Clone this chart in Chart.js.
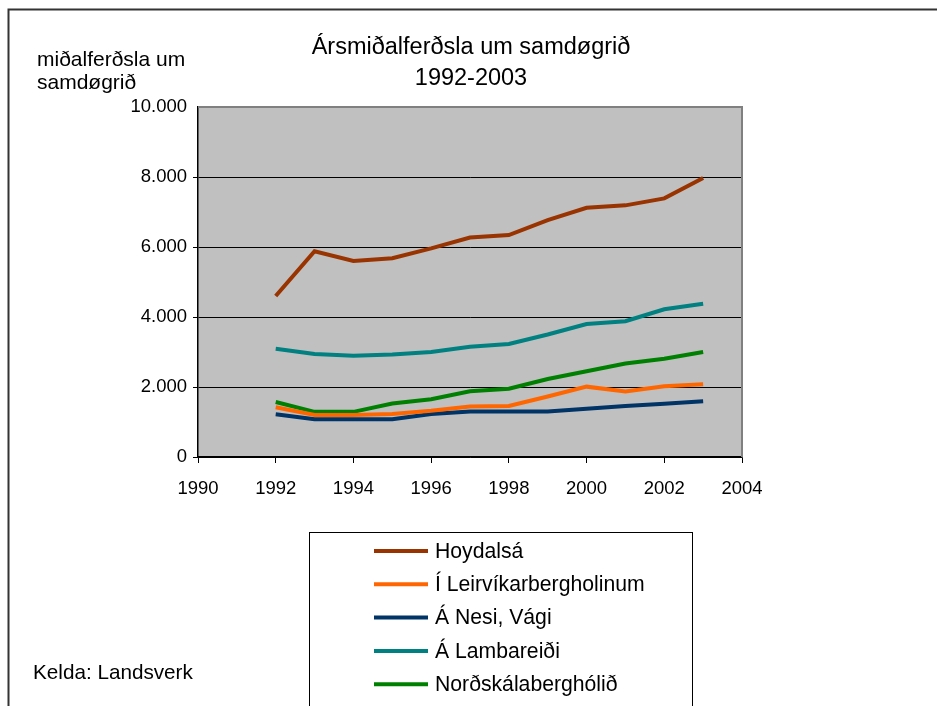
<!DOCTYPE html>
<html>
<head>
<meta charset="utf-8">
<script src="https://cdn.jsdelivr.net/npm/chart.js@4/dist/chart.umd.min.js"></script>
<style>
  html, body { margin: 0; padding: 0; background: #fff; }
  #wrap { width: 937px; height: 706px; position: relative; }
</style>
</head>
<body>
<div id="wrap"><canvas id="graf" width="937" height="706"></canvas></div>
<script>
const years = [1992, 1993, 1994, 1995, 1996, 1997, 1998, 1999, 2000, 2001, 2002, 2003];
const hoydalsa = [4600, 5880, 5600, 5680, 5960, 6270, 6340, 6770, 7120, 7190, 7390, 7970];
const leirvik = [1420, 1200, 1200, 1230, 1320, 1440, 1460, 1730, 2010, 1870, 2020, 2080];
const nesi = [1220, 1080, 1080, 1080, 1230, 1300, 1300, 1300, 1380, 1460, 1520, 1590];
const lambareidi = [3090, 2940, 2890, 2930, 3000, 3150, 3230, 3500, 3800, 3880, 4220, 4380];
const nordskala = [1570, 1290, 1290, 1530, 1650, 1880, 1950, 2230, 2450, 2670, 2810, 3000];

const seriesNames = ["Hoydalsá", "Í Leirvíkarbergholinum", "Á Nesi, Vági", "Á Lambareiði", "Norðskálaberghólið"];
const seriesColors = ["#993300", "#ff6600", "#003366", "#008080", "#008000"];
const yTicks = [0, 2000, 4000, 6000, 8000, 10000];
const xTicks = [1990, 1992, 1994, 1996, 1998, 2000, 2002, 2004];

const font = "'Liberation Sans', Arial, sans-serif";

function pts(vals) {
  return vals.map((v, i) => ({ x: years[i], y: v }));
}

function fmt(v) {
  return String(v).replace(/\B(?=(\d{3})+(?!\d))/g, ".");
}

const allSeries = [hoydalsa, leirvik, nesi, lambareidi, nordskala];

// background, frame and texts
const deco = {
  id: "deco",
  beforeDraw(chart) {
    const c = chart.ctx, a = chart.chartArea;
    c.save();
    c.fillStyle = "#c0c0c0";
    c.fillRect(a.left, a.top, a.right - a.left, a.bottom - a.top);
    c.restore();
  },
  afterDatasetsDraw(chart) {
    const c = chart.ctx, a = chart.chartArea;
    c.save();
    c.strokeStyle = "#808080";
    c.lineWidth = 2;
    c.beginPath();
    c.moveTo(a.left, a.top);
    c.lineTo(a.right, a.top);
    c.lineTo(a.right, a.bottom);
    c.stroke();

    // outer frame
    c.strokeStyle = "#333";
    c.lineWidth = 2;
    c.beginPath();
    c.moveTo(8.5, 706);
    c.lineTo(8.5, 9.5);
    c.lineTo(937, 9.5);
    c.stroke();

    c.fillStyle = "#000";
    c.textBaseline = "alphabetic";
    c.textAlign = "center";
    c.font = "23.5px " + font;
    c.fillText("Ársmiðalferðsla um samdøgrið", 471, 54);
    c.fillText("1992-2003", 471, 85);

    c.textAlign = "left";
    c.font = "21px " + font;
    c.fillText("miðalferðsla um", 37, 66);
    c.fillText("samdøgrið", 37, 89);

    c.font = "20.7px " + font;
    c.fillText("Kelda: Landsverk", 33, 679);

    // legend
    c.strokeStyle = "#000";
    c.lineWidth = 1;
    c.strokeRect(309.5, 532.5, 383, 200);
    chart.data.datasets.forEach((ds, i) => {
      const y = 551 + i * 33.3;
      c.strokeStyle = ds.borderColor;
      c.lineWidth = 4;
      c.beginPath();
      c.moveTo(374, y);
      c.lineTo(428, y);
      c.stroke();
      c.fillStyle = "#000";
      c.textBaseline = "middle";
      c.font = "21.2px " + font;
      c.fillText(ds.label, 435, y + 1);
    });
    c.restore();
  }
};

new Chart(document.getElementById("graf"), {
  type: "line",
  data: {
    datasets: allSeries.map((s, i) => ({
      label: seriesNames[i],
      data: pts(s),
      borderColor: seriesColors[i],
      borderWidth: 4,
      pointRadius: 0,
      tension: 0,
      fill: false
    }))
  },
  options: {
    responsive: false,
    animation: false,
    layout: { padding: { top: 107, right: 195, left: 0, bottom: 0 } },
    plugins: { legend: { display: false }, title: { display: false }, tooltip: { enabled: false } },
    scales: {
      x: {
        type: "linear",
        min: 1990,
        max: 2004,
        afterBuildTicks: s => { s.ticks = xTicks.map(v => ({ value: v })); },
        afterFit: s => { s.height = 706 - 457; },
        ticks: {
          color: "#000",
          font: { family: font, size: 18.5 },
          padding: 15,
          maxRotation: 0,
          callback: v => String(v)
        },
        grid: { drawOnChartArea: false, drawTicks: true, tickLength: 6, color: "#000", lineWidth: 1 },
        border: { color: "#000", width: 1.5 }
      },
      y: {
        min: 0,
        max: 10000,
        afterBuildTicks: s => { s.ticks = yTicks.map(v => ({ value: v })); },
        afterFit: s => { s.width = 198; },
        ticks: {
          color: "#000",
          font: { family: font, size: 18.5 },
          padding: 6,
          callback: v => fmt(v)
        },
        grid: {
          color: ctx => (ctx.tick && ctx.tick.value === 10000) ? "rgba(0,0,0,0)" : "#000",
          lineWidth: 1,
          tickLength: 5,
          drawTicks: true
        },
        border: { color: "#000", width: 1.5 }
      }
    }
  },
  plugins: [deco]
});
</script>
</body>
</html>
